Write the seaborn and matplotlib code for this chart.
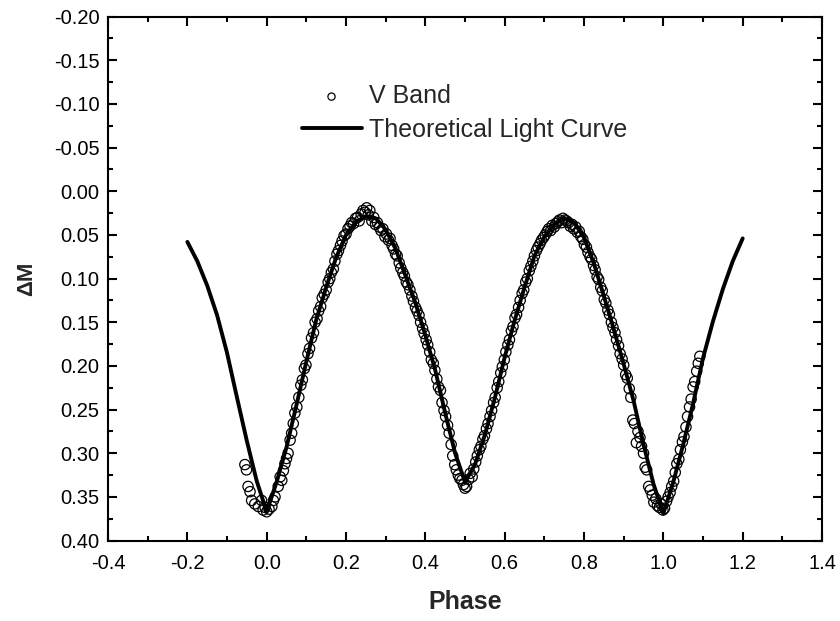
import matplotlib
matplotlib.use("Agg")
import matplotlib.pyplot as plt
from matplotlib.ticker import MultipleLocator, FormatStrFormatter
import seaborn as sns
import pandas as pd

# Theoretical light curve (phase, delta M)
curve_phase = [-0.2, -0.175, -0.15, -0.125, -0.1, -0.075, -0.05, -0.025, 0.0,
               0.025, 0.05, 0.075, 0.1, 0.125, 0.15, 0.175, 0.2, 0.225, 0.25,
               0.275, 0.3, 0.325, 0.35, 0.375, 0.4, 0.425, 0.45, 0.475, 0.5,
               0.525, 0.55, 0.575, 0.6, 0.625, 0.65, 0.675, 0.7, 0.725, 0.75,
               0.775, 0.8, 0.825, 0.85, 0.875, 0.9, 0.925, 0.95, 0.975, 1.0,
               1.025, 1.05, 1.075, 1.1, 1.125, 1.15, 1.175, 1.2]
curve_dm = [0.058, 0.080, 0.108, 0.142, 0.185, 0.236, 0.286, 0.332, 0.367,
            0.333, 0.293, 0.245, 0.195, 0.147, 0.110, 0.076, 0.050, 0.035, 0.029,
            0.031, 0.044, 0.066, 0.097, 0.128, 0.165, 0.205, 0.254, 0.300, 0.333,
            0.313, 0.279, 0.237, 0.190, 0.148, 0.110, 0.074, 0.052, 0.038, 0.031,
            0.036, 0.053, 0.083, 0.120, 0.158, 0.198, 0.240, 0.290, 0.335, 0.369,
            0.333, 0.290, 0.243, 0.191, 0.149, 0.112, 0.080, 0.054]

# V band observations
obs_phase = [
    -0.055, -0.051, -0.047, -0.042, -0.038, -0.030, -0.021, -0.013, -0.009, -0.004,
    0.000, 0.006, 0.013, 0.017, 0.021, 0.029, 0.034, 0.038, 0.042, 0.046,
    0.050, 0.054, 0.059, 0.063, 0.067, 0.071, 0.076,
    0.081, 0.086, 0.090, 0.095, 0.099, 0.104, 0.108, 0.113, 0.118, 0.122,
    0.127, 0.131, 0.136, 0.140, 0.145, 0.150, 0.155, 0.159, 0.163, 0.168,
    0.172, 0.177, 0.181, 0.186, 0.190, 0.195, 0.200, 0.205, 0.210, 0.214,
    0.219, 0.224, 0.229, 0.233, 0.238, 0.243, 0.248, 0.252, 0.256, 0.260,
    0.265, 0.270, 0.274, 0.279, 0.284, 0.288, 0.293, 0.298, 0.302, 0.307,
    0.311, 0.316, 0.320, 0.325, 0.329, 0.334, 0.338, 0.343, 0.347, 0.352,
    0.356, 0.361, 0.366, 0.370, 0.375, 0.379, 0.384, 0.388, 0.393, 0.397,
    0.402, 0.406, 0.411, 0.415, 0.420, 0.424, 0.429, 0.433, 0.438, 0.442,
    0.447, 0.451, 0.456, 0.460, 0.465, 0.469, 0.474, 0.478, 0.483, 0.487,
    0.492, 0.496, 0.500, 0.504,
    0.509, 0.513, 0.518, 0.522, 0.527, 0.531, 0.536, 0.540, 0.545, 0.549,
    0.554, 0.558, 0.563, 0.567, 0.572, 0.576, 0.581, 0.585, 0.590, 0.594,
    0.599, 0.603, 0.608, 0.612, 0.617, 0.621, 0.626, 0.630, 0.635, 0.639,
    0.644, 0.648, 0.653, 0.657, 0.662, 0.666, 0.671, 0.675, 0.680, 0.684,
    0.689, 0.693, 0.698, 0.702, 0.707, 0.711, 0.716, 0.720, 0.725, 0.729,
    0.734, 0.738, 0.743, 0.747, 0.752, 0.756,
    0.761, 0.765, 0.770, 0.774, 0.779, 0.783, 0.788, 0.792, 0.797, 0.801,
    0.806, 0.810, 0.815, 0.819, 0.824, 0.828, 0.833, 0.837, 0.842, 0.846,
    0.851, 0.855, 0.860, 0.864, 0.869, 0.873, 0.878, 0.882, 0.887, 0.891,
    0.896, 0.900, 0.905, 0.909, 0.914, 0.918, 0.923, 0.927, 0.932, 0.936,
    0.941, 0.945, 0.950, 0.954, 0.958, 0.963, 0.967, 0.972, 0.976, 0.981,
    0.985, 0.990, 0.994, 0.999,
    1.003, 1.008, 1.012, 1.017, 1.021, 1.026, 1.030, 1.034, 1.039, 1.043,
    1.048, 1.052, 1.057, 1.061, 1.066, 1.070, 1.075, 1.079, 1.084, 1.088,
    1.092]
obs_dm = [
    0.313, 0.319, 0.338, 0.344, 0.354, 0.358, 0.361, 0.354, 0.365, 0.362,
    0.367, 0.364, 0.361, 0.354, 0.350, 0.338, 0.327, 0.331, 0.320, 0.312,
    0.306, 0.300, 0.285, 0.277, 0.266, 0.254, 0.247,
    0.236, 0.222, 0.216, 0.203, 0.199, 0.186, 0.180, 0.168, 0.162, 0.150,
    0.146, 0.137, 0.132, 0.122, 0.118, 0.113, 0.104, 0.100, 0.093, 0.089,
    0.080, 0.072, 0.068, 0.062, 0.057, 0.051, 0.049, 0.043, 0.040, 0.036,
    0.037, 0.031, 0.030, 0.034, 0.026, 0.022, 0.024, 0.019, 0.027, 0.022,
    0.034, 0.030, 0.038, 0.036, 0.041, 0.045, 0.043, 0.052, 0.049, 0.056,
    0.054, 0.062, 0.066, 0.072, 0.074, 0.082, 0.088, 0.093, 0.097, 0.104,
    0.107, 0.113, 0.120, 0.126, 0.133, 0.137, 0.142, 0.150, 0.157, 0.163,
    0.170, 0.176, 0.184, 0.193, 0.197, 0.205, 0.215, 0.224, 0.228, 0.242,
    0.251, 0.258, 0.268, 0.277, 0.290, 0.303, 0.313, 0.319, 0.325, 0.329,
    0.331, 0.336, 0.340, 0.338,
    0.330, 0.323, 0.327, 0.318, 0.310, 0.303, 0.296, 0.292, 0.284, 0.280,
    0.272, 0.266, 0.258, 0.251, 0.242, 0.236, 0.225, 0.218, 0.208, 0.201,
    0.193, 0.184, 0.176, 0.170, 0.160, 0.155, 0.145, 0.141, 0.133, 0.125,
    0.117, 0.113, 0.104, 0.100, 0.091, 0.086, 0.080, 0.074, 0.068, 0.064,
    0.060, 0.056, 0.053, 0.050, 0.046, 0.043, 0.045, 0.039, 0.041, 0.037,
    0.035, 0.033, 0.036, 0.031, 0.033, 0.034,
    0.036, 0.040, 0.038, 0.043, 0.041, 0.047, 0.046, 0.052, 0.055, 0.061,
    0.064, 0.070, 0.075, 0.078, 0.085, 0.090, 0.098, 0.101, 0.110, 0.114,
    0.124, 0.128, 0.136, 0.141, 0.150, 0.156, 0.162, 0.170, 0.177, 0.186,
    0.192, 0.199, 0.210, 0.214, 0.226, 0.236, 0.262, 0.266, 0.288, 0.275,
    0.282, 0.292, 0.300, 0.316, 0.319, 0.338, 0.342, 0.348, 0.356, 0.352,
    0.360, 0.362, 0.358, 0.365,
    0.363, 0.355, 0.350, 0.345, 0.338, 0.332, 0.322, 0.312, 0.307, 0.296,
    0.287, 0.281, 0.270, 0.258, 0.247, 0.238, 0.224, 0.218, 0.206, 0.197,
    0.189]

x_ticks = [-0.4, -0.2, 0.0, 0.2, 0.4, 0.6, 0.8, 1.0, 1.2, 1.4]
y_ticks = [-0.20, -0.15, -0.10, -0.05, 0.00, 0.05, 0.10, 0.15, 0.20, 0.25, 0.30, 0.35, 0.40]

sns.set_style("ticks")
plt.rcParams['font.family'] = ['Liberation Sans', 'DejaVu Sans']

obs_df = pd.DataFrame({"phase": obs_phase, "dm": obs_dm})
curve_df = pd.DataFrame({"phase": curve_phase, "dm": curve_dm})

fig = plt.figure(figsize=(8.4, 6.21), dpi=100)
ax = fig.add_axes([0.1286, 0.1295, 0.85, 0.8438])

sns.scatterplot(data=obs_df, x="phase", y="dm", ax=ax, marker="o", s=55,
                facecolors="none", edgecolors="black", linewidth=0.9,
                label="V Band", zorder=2)
sns.lineplot(data=curve_df, x="phase", y="dm", ax=ax, color="black",
             linewidth=2.8, label="Theoretical Light Curve", zorder=3,
             sort=False, estimator=None)

ax.set_xlim(-0.4, 1.4)
ax.set_ylim(0.40, -0.20)
ax.set_xticks(x_ticks)
ax.set_yticks(y_ticks)
ax.xaxis.set_minor_locator(MultipleLocator(0.1))
ax.yaxis.set_minor_locator(MultipleLocator(0.025))
ax.xaxis.set_major_formatter(FormatStrFormatter('%.1f'))
ax.yaxis.set_major_formatter(FormatStrFormatter('%.2f'))
ax.tick_params(which='both', direction='in', top=True, right=True,
               labelsize=14.5, width=1.5, colors='black')
ax.tick_params(which='major', length=6.5)
ax.tick_params(which='minor', length=3.5)
ax.tick_params(axis='x', which='major', pad=10)
ax.tick_params(axis='y', which='major', pad=6)
for sp in ax.spines.values():
    sp.set_linewidth(1.5)
    sp.set_color('black')

ax.set_xlabel("Phase", fontsize=18, fontweight='bold', labelpad=12)
ax.set_ylabel("ΔM", fontsize=16, fontweight='bold', labelpad=12)

handles, labels = ax.get_legend_handles_labels()
leg = ax.legend(handles, labels, loc='upper left', bbox_to_anchor=(0.271, 0.871),
                frameon=False, fontsize=18, handlelength=2.4, handletextpad=0.3,
                labelspacing=0.4, borderpad=0, borderaxespad=0, scatterpoints=1,
                markerscale=0.7)

fig.savefig("out.png", dpi=100)
